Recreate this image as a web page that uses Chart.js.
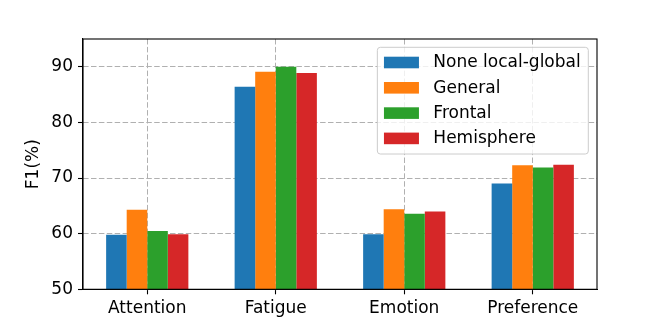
<!DOCTYPE html>
<html>
<head>
<meta charset="utf-8">
<script src="https://cdn.jsdelivr.net/npm/chart.js@4.4.1/dist/chart.umd.min.js"></script>
<style>
  html, body { margin: 0; padding: 0; background: #ffffff; }
  #wrap { width: 664px; height: 326px; }
</style>
</head>
<body>
<div id="wrap"><canvas id="c" width="664" height="326"></canvas></div>
<script>
const categories = ['Attention', 'Fatigue', 'Emotion', 'Preference'];
const seriesNames = ['None local-global', 'General', 'Frontal', 'Hemisphere'];
const noneLocalGlobal = [59.8, 86.4, 59.9, 69.0];
const general = [64.3, 89.1, 64.4, 72.3];
const frontal = [60.5, 90.0, 63.6, 71.9];
const hemisphere = [59.9, 88.9, 64.0, 72.4];
const colors = ['#1f77b4', '#ff7f0e', '#2ca02c', '#d62728'];
const yTicks = [50, 60, 70, 80, 90];
const yMin = 50, yMax = 95;
const yTitle = 'F1(%)';

const FONT = "'DejaVu Sans', sans-serif";
const FS = 17;
const seriesValues = [noneLocalGlobal, general, frontal, hemisphere];

const boxPlugin = {
  id: 'boxPlugin',
  afterDraw(chart) {
    const { ctx, chartArea: a } = chart;
    ctx.save();
    ctx.strokeStyle = '#000000';
    ctx.lineWidth = 1.1;
    ctx.strokeRect(a.left, a.top, a.right - a.left, a.bottom - a.top);
    ctx.restore();
  }
};

const legendPlugin = {
  id: 'mplLegend',
  afterDatasetsDraw(chart) {
    const { ctx, chartArea: a } = chart;
    ctx.save();
    ctx.font = FS + 'px ' + FONT;
    const ds = chart.data.datasets;
    let maxW = 0;
    ds.forEach(d => { maxW = Math.max(maxW, ctx.measureText(d.label).width); });
    const padL = 6.6, padR = 7.6, sw = 35, gap = 14.4, rowH = 25.3;
    const w = padL + sw + gap + maxW + padR;
    const h = 106.7;
    const x = a.right - 8.7 - w;
    const y = a.top + 8.3;
    const r = 3;
    ctx.beginPath();
    ctx.moveTo(x + r, y);
    ctx.lineTo(x + w - r, y);
    ctx.quadraticCurveTo(x + w, y, x + w, y + r);
    ctx.lineTo(x + w, y + h - r);
    ctx.quadraticCurveTo(x + w, y + h, x + w - r, y + h);
    ctx.lineTo(x + r, y + h);
    ctx.quadraticCurveTo(x, y + h, x, y + h - r);
    ctx.lineTo(x, y + r);
    ctx.quadraticCurveTo(x, y, x + r, y);
    ctx.closePath();
    ctx.fillStyle = 'rgba(255,255,255,0.8)';
    ctx.fill();
    ctx.strokeStyle = '#cccccc';
    ctx.lineWidth = 1;
    ctx.stroke();
    ds.forEach((d, i) => {
      const cy = y + 15.2 + i * rowH;
      ctx.fillStyle = d.backgroundColor;
      ctx.fillRect(x + padL, cy - 5.8, sw, 11.6);
      ctx.fillStyle = '#000000';
      ctx.textBaseline = 'middle';
      ctx.textAlign = 'left';
      ctx.fillText(d.label, x + padL + sw + gap, cy + 0.5);
    });
    ctx.restore();
  }
};

const gridColor = '#b0b0b0';

new Chart(document.getElementById('c'), {
  type: 'bar',
  data: {
    labels: categories,
    datasets: seriesNames.map((name, i) => ({
      label: name,
      data: seriesValues[i],
      backgroundColor: colors[i],
      borderWidth: 0,
      categoryPercentage: 0.64,
      barPercentage: 1.0
    }))
  },
  options: {
    responsive: false,
    animation: false,
    devicePixelRatio: 1,
    layout: { padding: { left: 0, right: 67, top: 39, bottom: 0 } },
    plugins: {
      legend: { display: false },
      tooltip: { enabled: false }
    },
    scales: {
      x: {
        offset: true,
        grid: {
          offset: false,
          color: gridColor,
          lineWidth: 1,
          drawTicks: true,
          tickLength: 5,
          tickColor: '#000000',
          tickBorderDash: [],
          tickWidth: 1.1
        },
        border: { display: true, color: '#000000', width: 1.1, dash: [5.5, 2.4] },
        ticks: {
          color: '#000000',
          font: { family: FONT, size: FS },
          padding: 4,
          maxRotation: 0
        },
        afterFit(scale) { scale.height = 36.7; }
      },
      y: {
        min: yMin,
        max: yMax,
        ticks: {
          stepSize: 10,
          color: '#000000',
          font: { family: FONT, size: FS },
          padding: 5
        },
        afterBuildTicks(scale) {
          scale.ticks = yTicks.map(v => ({ value: v }));
        },
        grid: {
          color: gridColor,
          lineWidth: 1,
          drawTicks: true,
          tickLength: 5,
          tickColor: '#000000',
          tickBorderDash: [],
          tickWidth: 1.1
        },
        border: { display: true, color: '#000000', width: 1.1, dash: [5.5, 2.4] },
        title: {
          display: true,
          text: yTitle,
          color: '#000000',
          font: { family: FONT, size: FS },
          padding: { top: 23, bottom: 0 }
        },
        afterFit(scale) { scale.width = 83; }
      }
    }
  },
  plugins: [boxPlugin, legendPlugin]
});
</script>
</body>
</html>
